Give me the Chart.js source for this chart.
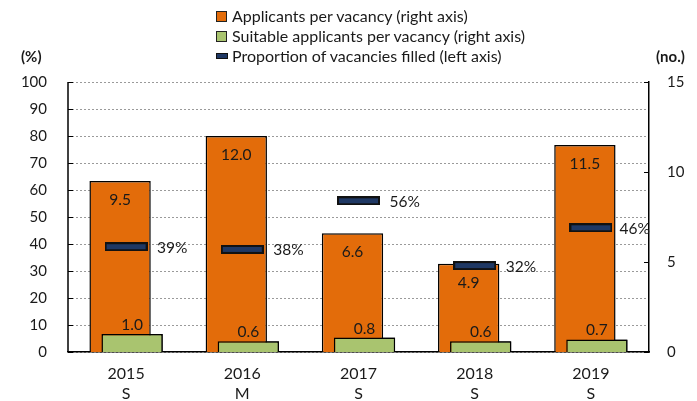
<!DOCTYPE html>
<html>
<head>
<meta charset="utf-8">
<script src="https://cdn.jsdelivr.net/npm/chart.js@4"></script>
<style>
    html, body { margin: 0; padding: 0; background: #fff; }
    #wrap { position: relative; width: 697px; height: 401px; }
    #legend { position: absolute; left: 216px; top: 6px; font-family: Lato, sans-serif; font-size: 16px; color: #1a1a1a; }
    #legend div { height: 20px; line-height: 20px; white-space: nowrap; }
    #legend span.box { display: inline-block; width: 9px; height: 9px; border: 1px solid #222; margin-right: 5px; vertical-align: 0px; }
    #legend span.dash { display: inline-block; width: 10px; height: 4px; background: #1f3864; border: 1px solid #111; margin-right: 4px; vertical-align: 3px; }
</style>
</head>
<body>
<div id="wrap">
    <canvas id="chart" width="697" height="401"></canvas>
    <div id="legend"></div>
</div>
<script>
// Data
const years = ['2015', '2016', '2017', '2018', '2019'];
const sizeCodes = ['S', 'M', 'S', 'S', 'S'];
const applicants = [9.5, 12.0, 6.6, 4.9, 11.5];
const suitable = [1.0, 0.6, 0.8, 0.6, 0.7];
const filledPct = [39, 38, 56, 32, 46];

const orange = '#e36c0a';
const green = '#a9c46f';
const navy = '#1f3864';
const textColor = '#1a1a1a';
const fontFamily = 'Lato, sans-serif';

// Legend (stacked, drawn in html)
const legendItems = [
    { text: 'Applicants per vacancy (right axis)', color: orange, kind: 'box' },
    { text: 'Suitable applicants per vacancy (right axis)', color: green, kind: 'box' },
    { text: 'Proportion of vacancies filled (left axis)', color: navy, kind: 'dash' }
];
const legendEl = document.getElementById('legend');
legendItems.forEach(item => {
    const row = document.createElement('div');
    const mark = document.createElement('span');
    mark.className = item.kind;
    mark.style.background = item.color;
    row.appendChild(mark);
    row.appendChild(document.createTextNode(item.text));
    legendEl.appendChild(row);
});

// wide flat marker for the proportion series
const marker = document.createElement('canvas');
marker.width = 43;
marker.height = 9;
const mctx = marker.getContext('2d');
mctx.fillStyle = navy;
mctx.fillRect(0, 0, 43, 9);
mctx.strokeStyle = '#111';
mctx.lineWidth = 2;
mctx.strokeRect(1, 1, 41, 7);

// dataset indexes
const LINE = 0, ORANGE = 1, GREEN = 2;

const labelPlugin = {
    id: 'labels',
    afterDatasetsDraw(chart) {
        const ctx = chart.ctx;
        const area = chart.chartArea;
        // green bars sit in front of the orange ones, markers in front of all
        chart.getDatasetMeta(GREEN).controller.draw();
        chart.getDatasetMeta(LINE).controller.draw();

        ctx.save();
        ctx.font = '15.5px ' + fontFamily;
        ctx.fillStyle = textColor;
        ctx.textBaseline = 'middle';
        ctx.textAlign = 'center';
        chart.getDatasetMeta(ORANGE).data.forEach((el, i) => {
            ctx.fillText(applicants[i].toFixed(1), el.x, el.y + 19);
        });
        chart.getDatasetMeta(GREEN).data.forEach((el, i) => {
            ctx.fillText(suitable[i].toFixed(1), el.x, el.y - 9);
        });
        ctx.textAlign = 'left';
        chart.getDatasetMeta(LINE).data.forEach((el, i) => {
            const txt = filledPct[i] + '%';
            const w = ctx.measureText(txt).width;
            const x = Math.min(el.x + 31, area.right + 1 - w);
            ctx.fillText(txt, x, el.y + 1);
        });
        ctx.restore();
    },
    afterDraw(chart) {
        const ctx = chart.ctx;
        const area = chart.chartArea;
        ctx.save();
        ctx.strokeStyle = '#000';
        // left axis line
        ctx.lineWidth = 1.5;
        ctx.beginPath();
        ctx.moveTo(area.left, area.top);
        ctx.lineTo(area.left, area.bottom);
        ctx.stroke();
        // inward tick marks
        ctx.lineWidth = 1;
        const yL = chart.scales.y;
        yL.ticks.forEach((t, i) => {
            const py = Math.round(yL.getPixelForTick(i)) + 0.5;
            ctx.beginPath();
            ctx.moveTo(area.left, py);
            ctx.lineTo(area.left + 5, py);
            ctx.stroke();
        });
        const yR = chart.scales.y2;
        yR.ticks.forEach((t, i) => {
            const py = Math.round(yR.getPixelForTick(i)) + 0.5;
            ctx.beginPath();
            ctx.moveTo(area.right - 5, py);
            ctx.lineTo(area.right, py);
            ctx.stroke();
        });
        // unit labels
        ctx.font = 'bold 15px ' + fontFamily;
        ctx.fillStyle = textColor;
        ctx.textBaseline = 'middle';
        ctx.textAlign = 'left';
        ctx.fillText('(%)', 21, 57);
        ctx.fillText('(no.)', 656, 57);
        ctx.restore();
    }
};

const barShape = {
    yAxisID: 'y2',
    borderColor: '#000',
    borderWidth: 1.5,
    categoryPercentage: 0.207,
    barPercentage: 5.1
};

new Chart(document.getElementById('chart'), {
    data: {
        labels: years.map((y, i) => [y, sizeCodes[i]]),
        datasets: [
            {
                type: 'line',
                label: 'Proportion of vacancies filled (left axis)',
                data: filledPct,
                yAxisID: 'y',
                showLine: false,
                pointStyle: marker,
                pointRadius: 20
            },
            Object.assign({
                type: 'bar',
                label: 'Applicants per vacancy (right axis)',
                data: applicants,
                backgroundColor: orange
            }, barShape),
            Object.assign({
                type: 'bar',
                label: 'Suitable applicants per vacancy (right axis)',
                data: suitable,
                backgroundColor: green
            }, barShape)
        ]
    },
    options: {
        responsive: false,
        animation: false,
        layout: { padding: { top: 82, left: 0, right: 0, bottom: 0 } },
        plugins: {
            legend: { display: false },
            tooltip: { enabled: false }
        },
        scales: {
            x: {
                grid: { display: false, drawTicks: false },
                border: { display: true, color: '#000', width: 1.5 },
                ticks: {
                    color: textColor,
                    font: { family: fontFamily, size: 16, lineHeight: 1.3 },
                    padding: 11,
                    maxRotation: 0
                },
                afterFit(scale) { scale.height = 49; }
            },
            y: {
                position: 'left',
                min: 0,
                max: 100,
                ticks: {
                    stepSize: 10,
                    color: textColor,
                    font: { family: fontFamily, size: 15 },
                    padding: 21
                },
                grid: { color: '#9a9a9a', lineWidth: 1, drawTicks: false },
                border: { display: false, dash: [2, 2] },
                afterFit(scale) { scale.width = 68; }
            },
            y2: {
                position: 'right',
                min: 0,
                max: 15,
                ticks: {
                    stepSize: 5,
                    color: textColor,
                    font: { family: fontFamily, size: 15 },
                    padding: 18
                },
                grid: { display: false, drawTicks: false },
                border: { display: true, color: '#000', width: 1.5 },
                afterFit(scale) { scale.width = 48; }
            }
        }
    },
    plugins: [labelPlugin]
});
</script>
</body>
</html>
